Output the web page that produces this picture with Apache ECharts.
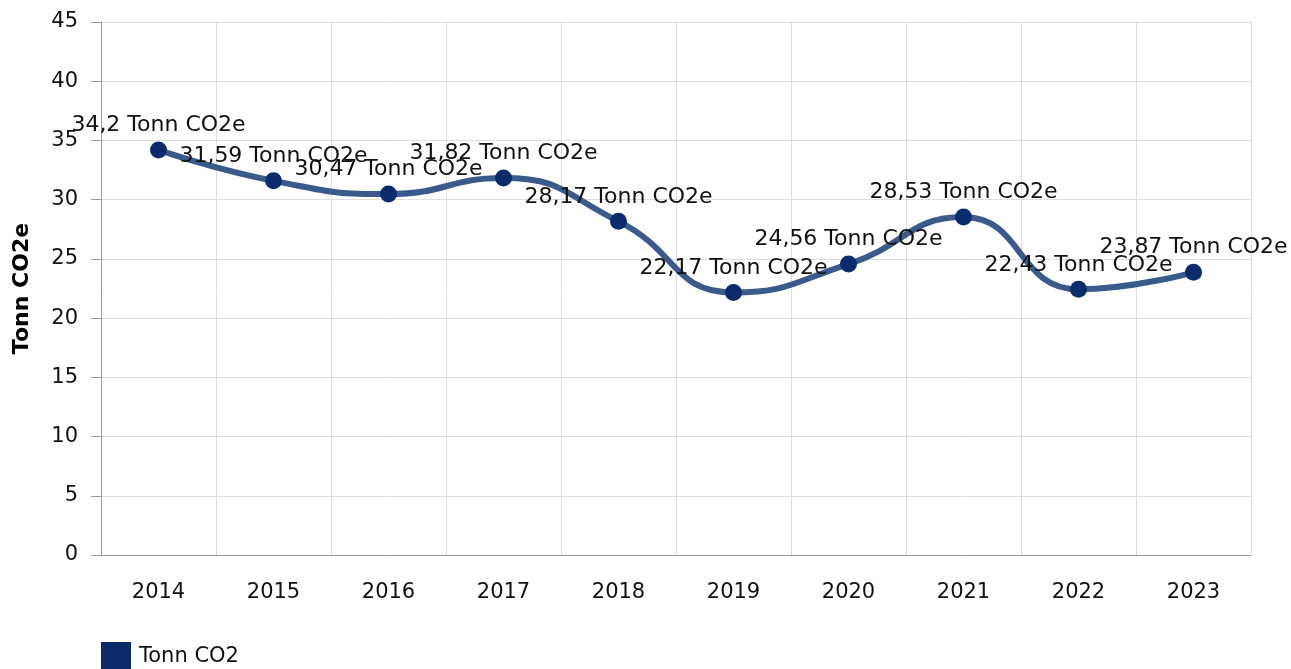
<!DOCTYPE html>
<html>
<head>
<meta charset="utf-8">
<script src="https://cdn.jsdelivr.net/npm/echarts@6/dist/echarts.min.js"></script>
<style>html,body{margin:0;padding:0;background:#fff}#c{width:1291px;height:669px}</style>
</head>
<body>
<div id="c"></div>
<script>
const categories = ['2014','2015','2016','2017','2018','2019','2020','2021','2022','2023'];
const values = [34.2, 31.59, 30.47, 31.82, 28.17, 22.17, 24.56, 28.53, 22.43, 23.87];
const seriesName = 'Tonn CO2';
const unit = 'Tonn CO2e';
const yTicks = {min: 0, max: 45, interval: 5};

const font = 'DejaVu Sans, Verdana, sans-serif';
const chart = echarts.init(document.getElementById('c'));
chart.setOption({
  animation: false,
  textStyle: {fontFamily: font},
  grid: {left: 101, right: 40, top: 22, bottom: 114, containLabel: false},
  legend: {
    left: 96, top: 637, icon: 'rect', itemWidth: 30, itemHeight: 30, itemGap: 10,
    textStyle: {fontSize: 21, color: '#111', fontFamily: font, padding: [0, 0, 0, 3]},
    data: [seriesName]
  },
  xAxis: {
    type: 'category', data: categories, boundaryGap: true,
    axisLine: {lineStyle: {color: '#999', width: 1}},
    axisTick: {alignWithLabel: true, length: 8, lineStyle: {color: '#999'}},
    axisLabel: {fontSize: 21, color: '#111', margin: 27, fontFamily: font},
    splitLine: {show: true, lineStyle: {color: '#dedede', width: 1}}
  },
  yAxis: {
    type: 'value', min: yTicks.min, max: yTicks.max, interval: yTicks.interval,
    name: unit, nameLocation: 'middle', nameGap: 68,
    nameTextStyle: {fontSize: 22, fontWeight: 'bold', color: '#000', fontFamily: font},
    axisLine: {show: true, lineStyle: {color: '#999', width: 1}},
    axisTick: {show: true, length: 10, lineStyle: {color: '#999'}},
    axisLabel: {fontSize: 21, color: '#111', margin: 23, fontFamily: font, padding: [3, 0, 0, 0]},
    splitLine: {show: true, lineStyle: {color: '#dedede', width: 1}}
  },
  series: [{
    name: seriesName, type: 'line', data: values, smooth: 0.5,
    symbol: 'circle', symbolSize: 17,
    itemStyle: {color: '#0a2c6c'},
    lineStyle: {color: '#3a5a8c', width: 6},
    label: {
      show: true, position: 'top', distance: 5,
      fontSize: 22, color: '#111', fontFamily: font,
      formatter: p => String(p.value).replace('.', ',') + ' ' + unit
    }
  }]
});
</script>
</body>
</html>
